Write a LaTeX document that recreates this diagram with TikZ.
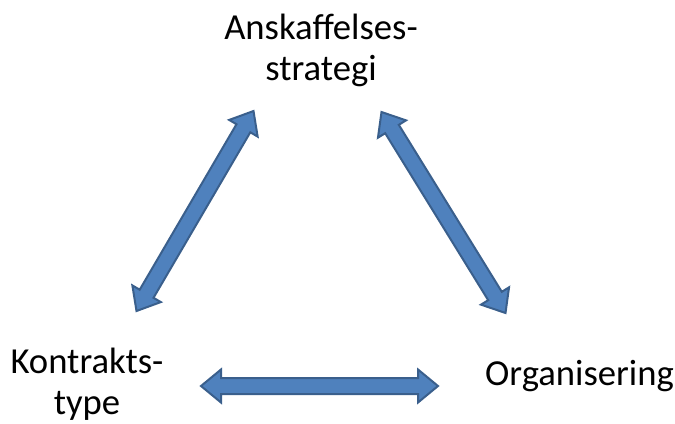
\documentclass[tikz,border=0pt]{standalone}
\usepackage{fontspec}
\setmainfont{Carlito}
\usetikzlibrary{calc}

\definecolor{arrowfill}{HTML}{4F81BD}
\definecolor{arrowline}{HTML}{3A5F8C}

% half widths of head and shaft, and head length of the block arrows
\def\headhalf{16.5bp}
\def\shafthalf{8bp}
\def\headlen{20bp}

% double-headed block arrow between two named coordinates
\newcommand\dblarrow[2]{%
  \filldraw[blockarrow] (#1)
    -- ($(#1)!\headlen!(#2)!\headhalf!90:(#2)$)
    -- ($(#1)!\headlen!(#2)!\shafthalf!90:(#2)$)
    -- ($(#2)!\headlen!(#1)!\shafthalf!-90:(#1)$)
    -- ($(#2)!\headlen!(#1)!\headhalf!-90:(#1)$)
    -- (#2)
    -- ($(#2)!\headlen!(#1)!\headhalf!90:(#1)$)
    -- ($(#2)!\headlen!(#1)!\shafthalf!90:(#1)$)
    -- ($(#1)!\headlen!(#2)!\shafthalf!-90:(#2)$)
    -- ($(#1)!\headlen!(#2)!\headhalf!-90:(#2)$)
    -- cycle;}

\tikzset{
  blockarrow/.style={fill=arrowfill, draw=arrowline, line width=2bp, line join=miter},
  label/.style={font=\fontsize{36.8}{41}\selectfont, align=center, inner sep=0pt, anchor=base}
}

\begin{document}
\begin{tikzpicture}[x=1bp, y=-1bp]
  \useasboundingbox (0,0) rectangle (675,423);

  % labels at the three corners (base anchor = baseline of the last line)
  \node[label] (strat) at (321,80) {Anskaffelses-\\strategi};
  \node[label] (kontr) at (87,414) {Kontrakts-\\type};
  \node[label] (org)   at (579.5,385) {Organisering};

  % arrow end points
  \coordinate (kA) at (136.5,311);
  \coordinate (sA) at (253.5,111);
  \coordinate (sB) at (381.5,112);
  \coordinate (oB) at (505.5,313);
  \coordinate (kB) at (201,386);
  \coordinate (oA) at (438,386);

  \dblarrow{kA}{sA}
  \dblarrow{sB}{oB}
  \dblarrow{kB}{oA}
\end{tikzpicture}
\end{document}
